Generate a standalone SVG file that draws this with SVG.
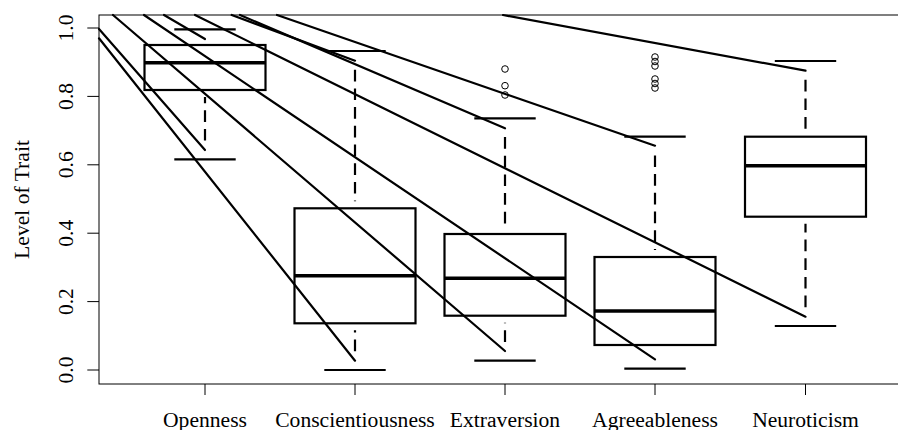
<svg xmlns="http://www.w3.org/2000/svg" width="898" height="430" viewBox="0 0 898 430">
<style>
text{font-family:"Liberation Serif","Times New Roman",serif;font-size:21.6px;fill:#000}
.frame{fill:none;stroke:#000;stroke-width:1}
.tick{stroke:#000;stroke-width:1}
.box{fill:none;stroke:#000;stroke-width:2.2}
.med{stroke:#000;stroke-width:3.6}
.cap{stroke:#000;stroke-width:2.2}
.whisk{stroke:#000;stroke-width:2.2;stroke-dasharray:11.7 7}
.out{fill:none;stroke:#000;stroke-width:1}
.conn line{stroke:#000;stroke-width:2.2;stroke-linecap:round}
</style>
<rect width="898" height="430" fill="#fff"/>
<g id="axes">
<rect class="frame" x="99" y="15" width="811" height="369"/>
<g class="tick">
<line x1="87.3" y1="370" x2="99" y2="370"/>
<line x1="87.3" y1="301.6" x2="99" y2="301.6"/>
<line x1="87.3" y1="233.2" x2="99" y2="233.2"/>
<line x1="87.3" y1="164.8" x2="99" y2="164.8"/>
<line x1="87.3" y1="96.4" x2="99" y2="96.4"/>
<line x1="87.3" y1="28" x2="99" y2="28"/>
<line x1="205" y1="384" x2="205" y2="395"/>
<line x1="355" y1="384" x2="355" y2="395"/>
<line x1="505" y1="384" x2="505" y2="395"/>
<line x1="655" y1="384" x2="655" y2="395"/>
<line x1="805.5" y1="384" x2="805.5" y2="395"/>
</g>
<g text-anchor="middle">
<text transform="translate(72.5,370) rotate(-90)">0.0</text>
<text transform="translate(72.5,301.6) rotate(-90)">0.2</text>
<text transform="translate(72.5,233.2) rotate(-90)">0.4</text>
<text transform="translate(72.5,164.8) rotate(-90)">0.6</text>
<text transform="translate(72.5,96.4) rotate(-90)">0.8</text>
<text transform="translate(72.5,28) rotate(-90)">1.0</text>
<text transform="translate(28.5,199.5) rotate(-90)">Level of Trait</text>
<text x="205" y="426.5">Openness</text>
<text x="355" y="426.5">Conscientiousness</text>
<text x="505" y="426.5">Extraversion</text>
<text x="655" y="426.5">Agreeableness</text>
<text x="805.5" y="426.5">Neuroticism</text>
</g>
</g>
<g id="openness">
<rect class="box" x="144.5" y="45" width="121" height="45"/>
<line class="med" x1="144.5" y1="62.7" x2="265.5" y2="62.7"/>
<line class="whisk" x1="205" y1="140.6" x2="205" y2="97"/>
<line class="cap" x1="174.3" y1="29.3" x2="235.7" y2="29.3"/>
<line class="cap" x1="174.3" y1="159.3" x2="235.7" y2="159.3"/>
</g>
<g id="conscientiousness">
<rect class="box" x="294.5" y="208.3" width="121" height="115"/>
<line class="med" x1="294.5" y1="275.7" x2="415.5" y2="275.7"/>
<line class="whisk" x1="355" y1="69.7" x2="355" y2="201.3"/>
<line class="whisk" x1="355" y1="351.3" x2="355" y2="330.3"/>
<line class="cap" x1="324.3" y1="51" x2="385.7" y2="51"/>
<line class="cap" x1="324.3" y1="370" x2="385.7" y2="370"/>
</g>
<g id="extraversion">
<rect class="box" x="444.5" y="234" width="121" height="81.7"/>
<line class="med" x1="444.5" y1="278.3" x2="565.5" y2="278.3"/>
<line class="whisk" x1="505" y1="137" x2="505" y2="227"/>
<line class="whisk" x1="505" y1="342" x2="505" y2="322.7"/>
<line class="cap" x1="474.3" y1="118.3" x2="535.7" y2="118.3"/>
<line class="cap" x1="474.3" y1="360.7" x2="535.7" y2="360.7"/>
<circle class="out" cx="505" cy="69" r="3.3"/>
<circle class="out" cx="505" cy="85.7" r="3.3"/>
<circle class="out" cx="505" cy="95" r="3.3"/>
</g>
<g id="agreeableness">
<rect class="box" x="594.5" y="257" width="121" height="88"/>
<line class="med" x1="594.5" y1="311" x2="715.5" y2="311"/>
<line class="whisk" x1="655" y1="155.4" x2="655" y2="250"/>
<line class="cap" x1="624.3" y1="136.7" x2="685.7" y2="136.7"/>
<line class="cap" x1="624.3" y1="368.7" x2="685.7" y2="368.7"/>
<circle class="out" cx="655" cy="57" r="3.3"/>
<circle class="out" cx="655" cy="61.5" r="3.3"/>
<circle class="out" cx="655" cy="66" r="3.3"/>
<circle class="out" cx="655" cy="79" r="3.3"/>
<circle class="out" cx="655" cy="83.5" r="3.3"/>
<circle class="out" cx="655" cy="88" r="3.3"/>
</g>
<g id="neuroticism">
<rect class="box" x="745" y="136.7" width="121" height="80"/>
<line class="med" x1="745" y1="165.7" x2="866" y2="165.7"/>
<line class="whisk" x1="805.5" y1="79.7" x2="805.5" y2="129.7"/>
<line class="whisk" x1="805.5" y1="307.3" x2="805.5" y2="223.7"/>
<line class="cap" x1="774.8" y1="61" x2="836.2" y2="61"/>
<line class="cap" x1="774.8" y1="326" x2="836.2" y2="326"/>
</g>
<g id="connectors" class="conn">
<line x1="164" y1="15" x2="205" y2="39"/>
<line x1="99" y1="29" x2="205" y2="150"/>
<line x1="231.7" y1="15" x2="355" y2="60.7"/>
<line x1="99" y1="38.3" x2="355" y2="360.7"/>
<line x1="240" y1="15" x2="505" y2="128.3"/>
<line x1="113" y1="15" x2="505" y2="351"/>
<line x1="277" y1="15" x2="655" y2="145.7"/>
<line x1="144" y1="15" x2="655" y2="359.3"/>
<line x1="503" y1="15" x2="805.5" y2="70.7"/>
<line x1="195" y1="15" x2="805.5" y2="316.7"/>
</g>
</svg>
